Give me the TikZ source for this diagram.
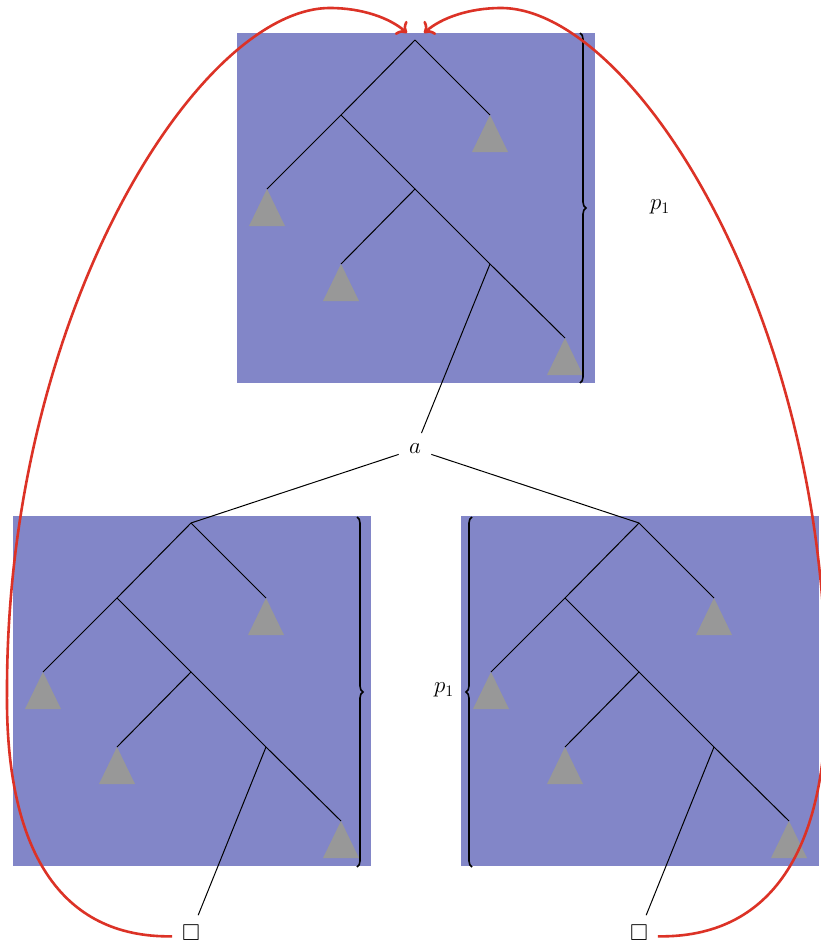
\RequirePackage{fix-cm}
\documentclass[tikz,border=0pt]{standalone}
\usepackage{amssymb}
\usetikzlibrary{decorations.pathreplacing,arrows.meta}
\definecolor{boxblue}{RGB}{130,134,200}
\definecolor{trigray}{RGB}{152,152,152}
\definecolor{arcred}{RGB}{220,50,38}
\tikzset{
  treeline/.style={line width=1pt, black},
  leaftri/.style={fill=trigray},
  bracestyle/.style={decorate, decoration={brace, amplitude=6pt}, line width=1.6pt},
  arcstyle/.style={arcred, line width=2.6pt, -{Computer Modern Rightarrow[length=9pt,width=18pt]}},
  lbl/.style={font=\fontsize{23}{28}\selectfont},
  subtree/.pic={
    \fill[boxblue] (-178,-7) rectangle (180,343);
    \coordinate (-r) at (0,0);
    \coordinate (-n1) at (-74,75);
    \coordinate (-t1) at (75,75);
    \coordinate (-t2) at (-148,149);
    \coordinate (-n2) at (0,149);
    \coordinate (-t3) at (-74,224);
    \coordinate (-n3) at (75,224);
    \coordinate (-t4) at (150,298);
    \draw[treeline] (-r) -- (-n1) -- (-t2);
    \draw[treeline] (-r) -- (-t1);
    \draw[treeline] (-n1) -- (-n2) -- (-t3);
    \draw[treeline] (-n2) -- (-n3) -- (-t4);
    \foreach \p in {-t1,-t2,-t3,-t4}{
      \fill[leaftri] (\p) -- ++(18,37) -- ++(-36,0) -- cycle;
    }
  }
}
\begin{document}
\begin{tikzpicture}[x=1pt,y=-1pt]
\clip (0,0) rectangle (821,945);
\fill[white] (0,0) rectangle (821,945);
\pic (T) at (415,40) {subtree};
\pic (L) at (191,523) {subtree};
\pic (R) at (639,523) {subtree};
% braces
\draw[bracestyle] (580,33) -- (580,383);
\draw[bracestyle] (357,517) -- (357,867);
\draw[bracestyle] (472,867) -- (472,517);
\node[lbl] (p1a) at (660,207) {$p_1$};
\node[lbl] (p1b) at (444,690) {$p_1$};
% middle node and squares
\node[lbl, circle, minimum size=34pt, inner sep=0pt] (a) at (415,449) {$a$};
\node[lbl, circle, minimum size=38pt, inner sep=0pt] (sqL) at (191,933) {$\square$};
\node[lbl, circle, minimum size=38pt, inner sep=0pt] (sqR) at (639,933) {$\square$};
\draw[treeline] (T-n3) -- (a);
\draw[treeline] (a) -- (L-r);
\draw[treeline] (a) -- (R-r);
\draw[treeline] (L-n3) -- (sqL);
\draw[treeline] (R-n3) -- (sqR);
% red arcs
\coordinate (tL) at (407,33);
\coordinate (tR) at (424,33);
\draw[arcstyle] (sqL.190) .. controls (60,938) and (5,850) .. (7,690)
  .. controls (7,310) and (200,8) .. (330,8)
  .. controls (362,8) and (390,18) .. (tL);
\draw[arcstyle] (sqR.-10) .. controls (771,938) and (828,850) .. (826,690)
  .. controls (826,310) and (631,8) .. (501,8)
  .. controls (469,8) and (441,18) .. (tR);
\end{tikzpicture}
\end{document}
